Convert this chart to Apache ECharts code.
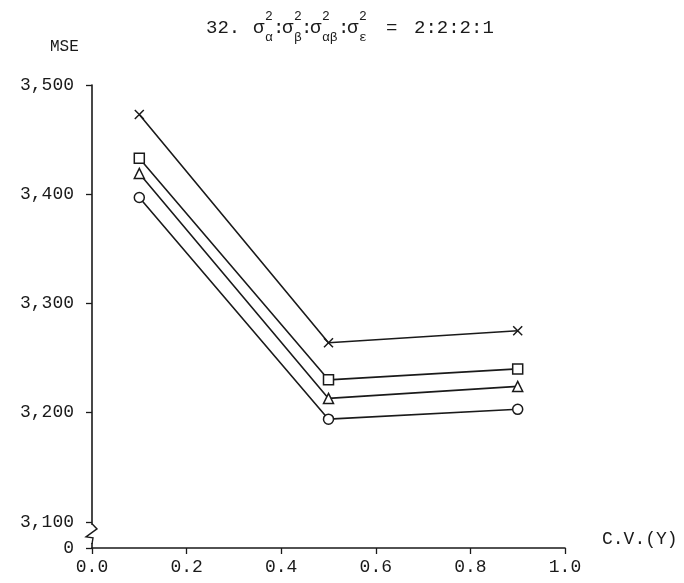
<!DOCTYPE html>
<html><head><meta charset="utf-8">
<script src="https://cdn.jsdelivr.net/npm/echarts@6/dist/echarts.min.js"></script>
<style>html,body{margin:0;padding:0;background:#fff}#c{width:684px;height:583px}</style>
</head><body><div id="c"></div>
<script>
// ---- data ----
const cvValues = [0.1, 0.5, 0.9];
const seriesCross = [3473, 3264, 3275];
const seriesSquare = [3433, 3230, 3240];
const seriesTriangle = [3419, 3213, 3224];
const seriesCircle = [3397, 3194, 3203];
const yTickValues = [3076, 3100, 3200, 3300, 3400, 3500];
const yTickLabels = ['0', '3,100', '3,200', '3,300', '3,400', '3,500'];
const xTickLabels = ['0.0', '0.2', '0.4', '0.6', '0.8', '1.0'];
const yAxisTitle = 'MSE';
const xAxisTitle = 'C.V.(Y)';

const FONT = '"Liberation Mono", "Courier New", monospace';
const INK = '#1a1a1a';

function pairs(vals) { return cvValues.map((x, i) => [x, vals[i]]); }

function mkSeries(vals, symbol, size) {
  return {
    type: 'line', data: pairs(vals), symbol: symbol, symbolSize: size,
    showSymbol: true,
    lineStyle: { color: INK, width: 1.6 },
    itemStyle: { color: '#fff', borderColor: INK, borderWidth: 1.5 },
    emphasis: { disabled: true }, animation: false, z: 3
  };
}

const chart = echarts.init(document.getElementById('c'), null, { renderer: 'canvas' });
const option = {
  backgroundColor: '#fff',
  animation: false,
  grid: { left: 92, right: 119, top: 85, bottom: 35, containLabel: false },
  xAxis: {
    type: 'value', min: 0, max: 1, interval: 0.2,
    name: xAxisTitle, nameLocation: 'end', nameGap: 37,
    nameTextStyle: { fontFamily: FONT, fontSize: 18, color: INK, align: 'left', verticalAlign: 'bottom' },
    axisLine: { show: true, lineStyle: { color: INK, width: 1.6 } },
    axisTick: { show: true, inside: false, length: 6, lineStyle: { color: INK, width: 1.3 } },
    axisLabel: { fontFamily: FONT, fontSize: 18, color: INK, margin: 10,
      formatter: v => xTickLabels[Math.round(v / 0.2)] },
    splitLine: { show: false }
  },
  yAxis: {
    type: 'value', min: yTickValues[0], max: yTickValues[yTickValues.length - 1],
    axisLine: { show: true, lineStyle: { color: INK, width: 1.6 } },
    axisTick: { show: true, inside: false, length: 6, customValues: yTickValues, lineStyle: { color: INK, width: 1.3 } },
    axisLabel: { fontFamily: FONT, fontSize: 18, color: INK, margin: 18, customValues: yTickValues,
      formatter: v => { const i = yTickValues.indexOf(v); return i >= 0 ? yTickLabels[i] : ''; } },
    splitLine: { show: false }
  },
  series: [
    mkSeries(seriesCross, 'path://M0,0L10,10M10,0L0,10', 9),
    mkSeries(seriesSquare, 'rect', 10),
    mkSeries(seriesTriangle, 'triangle', 10),
    mkSeries(seriesCircle, 'circle', 10)
  ]
};
chart.setOption(option);

// axis break zigzag and title
const pTop = chart.convertToPixel({ gridIndex: 0 }, [0, yTickValues[1]]);
const pBot = chart.convertToPixel({ gridIndex: 0 }, [0, yTickValues[0]]);
const ax = pTop[0];
const y1 = pTop[1] + 3, y2 = pBot[1] - 5;
const midY = (y1 + y2) / 2;

function t(text, x, y, size, extra) {
  return Object.assign({ type: 'text', x: x, y: y, style: { text: text, fontFamily: FONT, fontSize: size, fill: INK, textVerticalAlign: 'middle' }, z: 10 }, extra || {});
}
const ty = 28, sup = 17, sub = 38, ss = 13, ms = 19;
chart.setOption({
  graphic: [
    { type: 'rect', shape: { x: ax - 4, y: y1, width: 8, height: y2 - y1 }, style: { fill: '#fff' }, z: 5 },
    { type: 'polyline', shape: { points: [[ax, y1 - 1], [ax + 5, midY - 5], [ax - 6, midY + 3], [ax + 1, midY + 4], [ax, y2 + 1]] },
      style: { stroke: INK, lineWidth: 1.4, fill: 'none' }, z: 6 },
    t(yAxisTitle, 50, 47, 16),
    t('32.', 206, ty, ms),
    t('σ', 253, ty, ms), t('2', 265, sup, ss), t('α', 265, sub, ss),
    t(':', 273, ty, ms),
    t('σ', 282, ty, ms), t('2', 294, sup, ss), t('β', 294, sub, ss),
    t(':', 301, ty, ms),
    t('σ', 310, ty, ms), t('2', 322, sup, ss), t('αβ', 322, sub, ss),
    t(':', 338, ty, ms),
    t('σ', 347, ty, ms), t('2', 359, sup, ss), t('ε', 359, sub, ss),
    t('=', 386, ty, ms),
    t('2:2:2:1', 414, ty, ms)
  ]
});
</script>
</body></html>
